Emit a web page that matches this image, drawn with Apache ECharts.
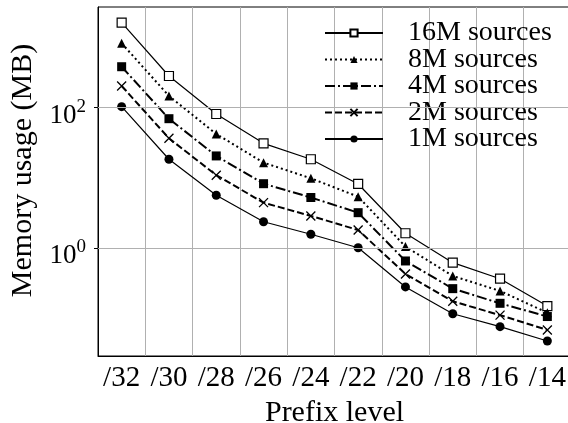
<!DOCTYPE html>
<html>
<head>
<meta charset="utf-8">
<script src="https://cdn.jsdelivr.net/npm/echarts@6/dist/echarts.min.js"></script>
<style>
  html, body { margin: 0; padding: 0; background: #fff; }
  #chart { width: 568px; height: 423px; }
</style>
</head>
<body>
<div id="chart"></div>
<script>
var categories = ['/32', '/30', '/28', '/26', '/24', '/22', '/20', '/18', '/16', '/14'];
var mem16M = [1600, 279, 80.3, 30.7, 18.2, 8.1, 1.61, 0.614, 0.363, 0.148];
var mem8M = [815, 145, 41.7, 16.3, 9.76, 5.34, 1.04, 0.397, 0.243, 0.119];
var mem4M = [378, 68.8, 20.3, 8.17, 5.2, 3.16, 0.649, 0.262, 0.162, 0.105];
var mem2M = [201, 36.2, 10.8, 4.39, 2.84, 1.79, 0.424, 0.173, 0.110, 0.0676];
var mem1M = [102, 18.2, 5.59, 2.35, 1.56, 1.0, 0.277, 0.115, 0.0753, 0.0471];
var yTicks = [1, 100];
var yMin = 0.0288, yMax = 2677;

(function () {

  var FONT = 'Liberation Serif';

  function _series(name, data, symbol, itemStyle, lineStyle){
    return {
      name: name,
      type: 'line',
      data: data,
      symbol: symbol,
      symbolSize: 9,
      itemStyle: itemStyle,
      lineStyle: lineStyle,
      emphasis: { disabled: true },
      animation: false
    };
  }

  // horizontal grid lines only at the labelled decades
  function _gridLines(){
    return {
      type: 'line',
      data: [],
      silent: true,
      animation: false,
      z: 1,
      markLine: {
        silent: true,
        animation: false,
        symbol: ['none', 'none'],
        label: { show: false },
        lineStyle: { color: '#b0b0b0', width: 1, type: 'solid' },
        data: yTicks.map(function(v){ return { yAxis: v }; })
      }
    };
  }

  function _labelFmt(v){
    var exp = Math.round(Math.log(v) / Math.LN10);
    return '{b|10}{s|' + exp + '}';
  }

  var chart = echarts.init(document.getElementById('chart'), null, { renderer: 'canvas' });

  var series = [
    _series('16M sources', mem16M, 'rect',
      { color: '#fff', borderColor: '#000', borderWidth: 1.2 },
      { color: '#000', width: 1.2, type: 'solid' }),
    _series('8M sources', mem8M, 'triangle',
      { color: '#000' },
      { color: '#000', width: 2, type: [2, 3] }),
    _series('4M sources', mem4M, 'rect',
      { color: '#000' },
      { color: '#000', width: 2, type: [10, 3, 2, 3] }),
    _series('2M sources', mem2M, 'path://M0 0L10 10M10 0L0 10',
      { color: 'transparent', borderColor: '#000', borderWidth: 1.3 },
      { color: '#000', width: 2, type: [7, 3] }),
    _series('1M sources', mem1M, 'circle',
      { color: '#000' },
      { color: '#000', width: 1.2, type: 'solid' })
  ];
  series.unshift(_gridLines());

  var opt = {
    backgroundColor: '#fff',
    textStyle: { fontFamily: FONT, color: '#000' },
    grid: {
      left: 98, top: 7, width: 473, height: 349,
      outerBoundsMode: 'none',
      containLabel: false,
      show: true, borderColor: '#000', borderWidth: 1
    },
    legend: {
      orient: 'vertical',
      left: 324, top: 19,
      padding: 0,
      itemWidth: 58, itemHeight: 9,
      itemGap: -1.5,
      textStyle: { fontFamily: FONT, fontSize: 28, color: '#000', padding: [0, 0, 0, 20] },
      data: ['16M sources', '8M sources', '4M sources', '2M sources', '1M sources']
    },
    xAxis: {
      type: 'category',
      data: categories,
      boundaryGap: true,
      name: 'Prefix level',
      nameLocation: 'middle',
      nameGap: 40,
      nameTextStyle: { fontFamily: FONT, fontSize: 30, color: '#000' },
      axisLine: { lineStyle: { color: '#000', width: 1 } },
      axisTick: { alignWithLabel: true, length: 5, lineStyle: { color: '#000' } },
      axisLabel: { fontFamily: FONT, fontSize: 29, color: '#000', margin: 8, interval: 0 },
      splitLine: { show: true, interval: 0, lineStyle: { color: '#b0b0b0', width: 1 } }
    },
    yAxis: {
      type: 'log',
      logBase: 10,
      min: yMin,
      max: yMax,
      name: 'Memory usage (MB)',
      nameLocation: 'middle',
      nameGap: 58,
      nameTextStyle: { fontFamily: FONT, fontSize: 30, color: '#000', padding: [0, 0, 0, 22] },
      axisLine: { show: true, lineStyle: { color: '#000', width: 1 } },
      axisTick: { show: true, length: 4, customValues: yTicks, lineStyle: { color: '#000' } },
      axisLabel: {
        customValues: yTicks,
        margin: 12,
        padding: [12, 0, 0, 0],
        formatter: _labelFmt,
        rich: {
          b: { fontFamily: FONT, fontSize: 27, color: '#000', padding: [5, 0, 0, 0] },
          s: { fontFamily: FONT, fontSize: 19, color: '#000', verticalAlign: 'top' }
        }
      },
      splitLine: { show: false }
    },
    series: series
  };

  chart.setOption(opt);
})();
</script>
</body>
</html>
